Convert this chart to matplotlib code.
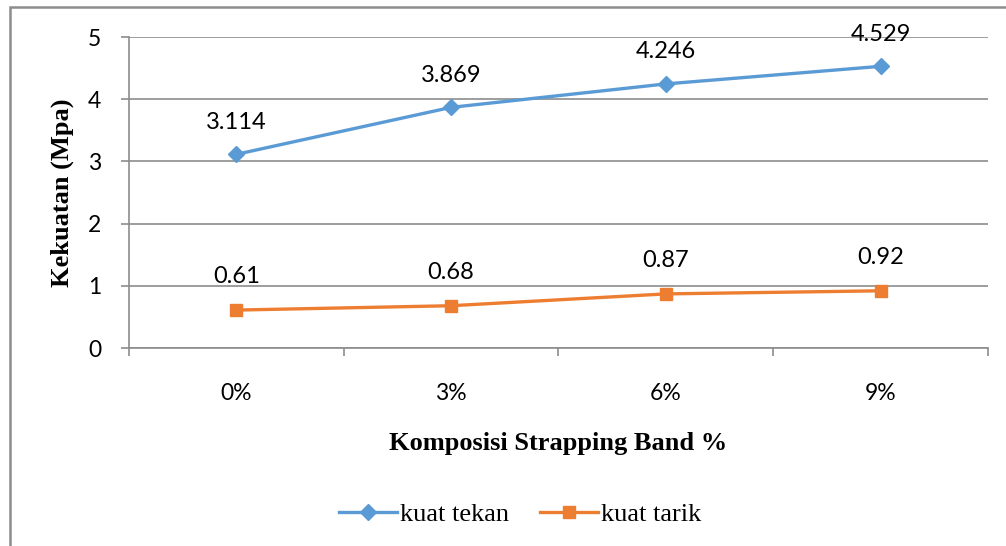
import matplotlib.pyplot as plt
from matplotlib.patches import Rectangle

# data
categories = ["0%", "3%", "6%", "9%"]
kuat_tekan = [3.114, 3.869, 4.246, 4.529]
kuat_tarik = [0.61, 0.68, 0.87, 0.92]
tekan_labels = ["3.114", "3.869", "4.246", "4.529"]
tarik_labels = ["0.61", "0.68", "0.87", "0.92"]

blue = "#5B9BD5"
orange = "#ED7D31"
grid_col = "#8C8C8C"
sans = ["Lato", "DejaVu Sans"]
serif = ["Liberation Serif", "DejaVu Serif"]

fig = plt.figure(figsize=(10.06, 5.46), dpi=100)
ax = fig.add_axes([0.1282, 0.3626, 0.8539, 0.5696])

x = list(range(len(categories)))
ax.plot(x, kuat_tekan, color=blue, lw=2.4, marker="D", ms=8, label="kuat tekan")
ax.plot(x, kuat_tarik, color=orange, lw=2.4, marker="s", ms=8, label="kuat tarik")

for xi, yi, t in zip(x, kuat_tekan, tekan_labels):
    ax.annotate(t, (xi, yi), xytext=(0, 23), textcoords="offset points",
                ha="center", va="center", fontsize=17, family=sans)
for xi, yi, t in zip(x, kuat_tarik, tarik_labels):
    ax.annotate(t, (xi, yi), xytext=(0, 24), textcoords="offset points",
                ha="center", va="center", fontsize=17, family=sans)

ax.set_xlim(-0.5, 3.5)
ax.set_ylim(0, 5)
ax.set_yticks([0, 1, 2, 3, 4, 5])
ax.set_xticks(x)
ax.set_xticklabels(categories)
ax.set_xticks([-0.5, 0.5, 1.5, 2.5, 3.5], minor=True)
ax.tick_params(axis="x", which="major", length=0, pad=25, labelsize=16.5)
ax.tick_params(axis="x", which="minor", length=6, color=grid_col, width=1.2)
ax.tick_params(axis="y", length=6, color=grid_col, width=1.2, pad=14, labelsize=16.5)
for lab in ax.get_xticklabels() + ax.get_yticklabels():
    lab.set_family(sans)

ax.grid(axis="y", color=grid_col, lw=1.2)
ax.set_axisbelow(True)
for s in ["top", "right"]:
    ax.spines[s].set_visible(False)
for s in ["left", "bottom"]:
    ax.spines[s].set_color(grid_col)
    ax.spines[s].set_linewidth(1.2)

ax.set_xlabel("Komposisi Strapping Band %", family=serif, fontweight="bold",
              fontsize=19, labelpad=20)
ax.set_ylabel("Kekuatan (Mpa)", family=serif, fontweight="bold", fontsize=19,
              labelpad=10)

leg = fig.legend(loc="center", bbox_to_anchor=(0.517, 0.058), ncol=2, frameon=False,
                 prop={"family": serif, "size": 19}, handlelength=2.2,
                 handletextpad=0.1, columnspacing=1.2)

# outer chart border
fig.add_artist(Rectangle((10 / 1006, -0.1), 1.2, 1 - 7 / 546 + 0.1,
                         transform=fig.transFigure, fill=False,
                         edgecolor="#8C8C8C", lw=1.8, clip_on=False))

fig.savefig("out.png", dpi=100)
